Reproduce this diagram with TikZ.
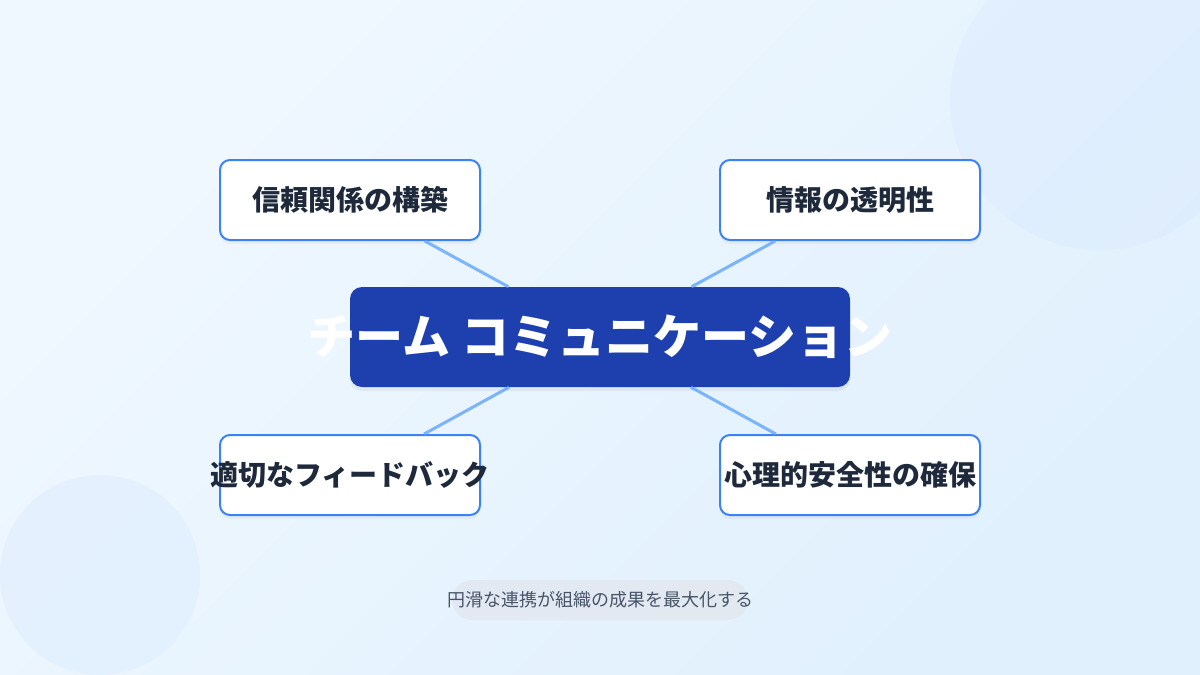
\documentclass[tikz,border=0pt]{standalone}
\usepackage{fontspec,
			xcolor,
			tikz
			}
\usetikzlibrary{shadows}
\setmainfont{Noto Sans CJK JP}

\definecolor{bgA}{HTML}{F0F8FF}
\definecolor{bgB}{HTML}{E0F0FD}
\definecolor{blob}{HTML}{DBEAFE}
\definecolor{hubblue}{HTML}{1E40AF}
\definecolor{topicline}{HTML}{3B82F6}
\definecolor{topicink}{HTML}{1E293B}
\definecolor{linkblue}{HTML}{60A5FA}
\definecolor{pill}{HTML}{E2E8F0}
\definecolor{pillink}{HTML}{475569}

\begin{document}
\begin{tikzpicture}[x = 1pt, y = -1pt,
	topic/.style = {draw = topicline, line width = 2pt, fill = white, rounded corners = 10pt,
		minimum width = 260pt, minimum height = 80pt, inner sep = 0pt,
		font = \fontsize{28pt}{32pt}\selectfont\bfseries, text = topicink,
		drop shadow = {opacity = 0.07, shadow xshift = 0pt, shadow yshift = -4pt}},
	hub/.style = {fill = hubblue, rounded corners = 12pt,
		minimum width = 500pt, minimum height = 100pt, inner sep = 0pt,
		font = \fontsize{48pt}{54pt}\selectfont\bfseries, text = white,
		drop shadow = {opacity = 0.1, shadow xshift = 0pt, shadow yshift = -4pt}},
	link/.style = {linkblue, opacity = 0.8, line width = 3pt}
	]
	\useasboundingbox (0,0) rectangle (1200,675);
	\clip (0,0) rectangle (1200,675);
	% background and soft circles
	\shade[top color = bgA, bottom color = bgB, shading angle = 45] (0,0) rectangle (1200,675);
	\fill[blob, opacity = 0.45] (1100,100) circle (150);
	\fill[blob, opacity = 0.45] (100,575) circle (100);

	\node[hub] (hub) at (600,337) {};
	\node[topic] (trust) at (350,200) {\makebox[0pt]{信頼関係の構築}};
	\node[topic] (info) at (850,200) {\makebox[0pt]{情報の透明性}};
	\node[topic] (feedback) at (350,475) {\makebox[0pt]{適切なフィードバック}};
	\node[topic] (safety) at (850,475) {\makebox[0pt]{心理的安全性の確保}};

	\draw[link] (hub) -- (trust);
	\draw[link] (hub) -- (info);
	\draw[link] (hub) -- (feedback);
	\draw[link] (hub) -- (safety);

	\node[font = \fontsize{48pt}{54pt}\selectfont\bfseries, text = white] (hubtext) at (hub) {チーム コミュニケーション};

	\node[fill = pill, opacity = 0.85, rounded corners = 20pt, minimum width = 296pt, minimum height = 40pt] (capbox) at (600,600) {};
	\node[font = \fontsize{18pt}{22pt}\selectfont, text = pillink] (caption) at (capbox) {円滑な連携が組織の成果を最大化する};
\end{tikzpicture}
\end{document}
